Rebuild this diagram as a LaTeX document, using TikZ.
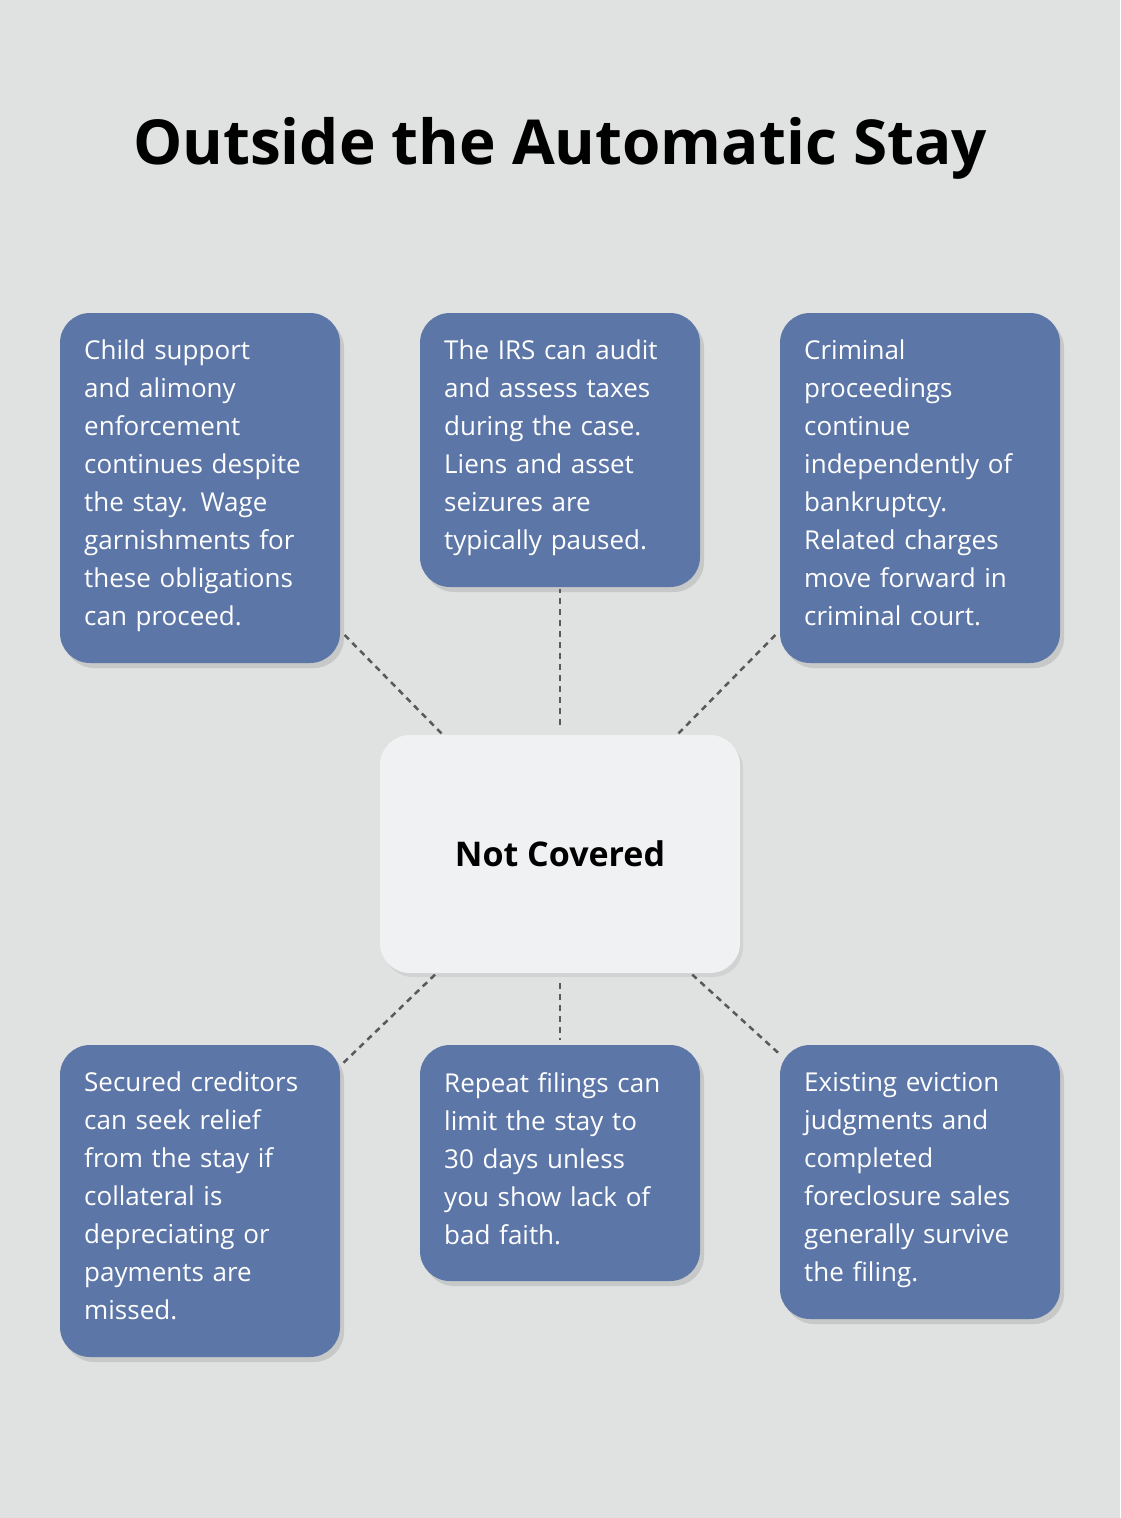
\documentclass[tikz,border=0pt]{standalone}
\usepackage{fontspec}
\setmainfont{Open Sans}
\usetikzlibrary{positioning,shadows}

\definecolor{bgcol}{HTML}{E0E2E1}
\definecolor{boxcol}{HTML}{5C76A8}
\definecolor{midcol}{HTML}{F0F1F3}

\tikzset{
  card/.style={draw=none,fill=boxcol,rounded corners=30pt,inner sep=0pt,
    drop shadow={opacity=0.25,shadow xshift=4pt,shadow yshift=-5pt}},
  cardtext/.style={anchor=north west,text=white,align=left,text width=250pt,inner sep=0pt,
    font=\fontsize{26}{38}\selectfont},
  link/.style={draw=black!65,line width=2.5pt,dash pattern=on 6pt off 5pt,shorten <=2pt,shorten >=2pt}
}

\begin{document}
\begin{tikzpicture}[x=1pt,y=-1pt]

\fill[bgcol] (0,0) rectangle (1120,1518);
\useasboundingbox (0,0) rectangle (1120,1518);

\node[font=\bfseries\fontsize{62}{70}\selectfont] (title) at (560,148) {Outside the Automatic Stay};

% boxes
\node[card,minimum width=280pt,minimum height=350pt] (child) at (200,488) {};
\node[card,minimum width=280pt,minimum height=274pt] (irs) at (560,450) {};
\node[card,minimum width=280pt,minimum height=350pt] (crime) at (920,488) {};
\node[card,minimum width=280pt,minimum height=312pt] (secured) at (200,1201) {};
\node[card,minimum width=280pt,minimum height=236pt] (repeat) at (560,1163) {};
\node[card,minimum width=280pt,minimum height=274pt] (evict) at (920,1182) {};

\node[fill=midcol,rounded corners=30pt,minimum width=360pt,minimum height=238pt,
  font=\bfseries\fontsize{34}{40}\selectfont,
  drop shadow={opacity=0.15,shadow xshift=3pt,shadow yshift=-4pt}] (center) at (560,854) {Not Covered};

% texts
\node[cardtext] (t1) at (84,340) {Child support\\and alimony\\enforcement\\continues despite\\the stay. Wage\\garnishments for\\these obligations\\can proceed.};
\node[cardtext] (t2) at (444,340) {The IRS can audit\\and assess taxes\\during the case.\\Liens and asset\\seizures are\\typically paused.};
\node[cardtext] (t3) at (804,340) {Criminal\\proceedings\\continue\\independently of\\bankruptcy.\\Related charges\\move forward in\\criminal court.};
\node[cardtext] (t4) at (84,1072) {Secured creditors\\can seek relief\\from the stay if\\collateral is\\depreciating or\\payments are\\missed.};
\node[cardtext] (t5) at (444,1072) {Repeat filings can\\limit the stay to\\30 days unless\\you show lack of\\bad faith.};
\node[cardtext] (t6) at (804,1072) {Existing eviction\\judgments and\\completed\\foreclosure sales\\generally survive\\the filing.};

% links
\foreach \b in {child,crime,secured,evict}
  \draw[link] (center) -- (\b);
\draw[link,shorten <=10pt] (center) -- (irs);
\draw[link,shorten <=10pt,shorten >=5pt] (center) -- (repeat);
\end{tikzpicture}
\end{document}
